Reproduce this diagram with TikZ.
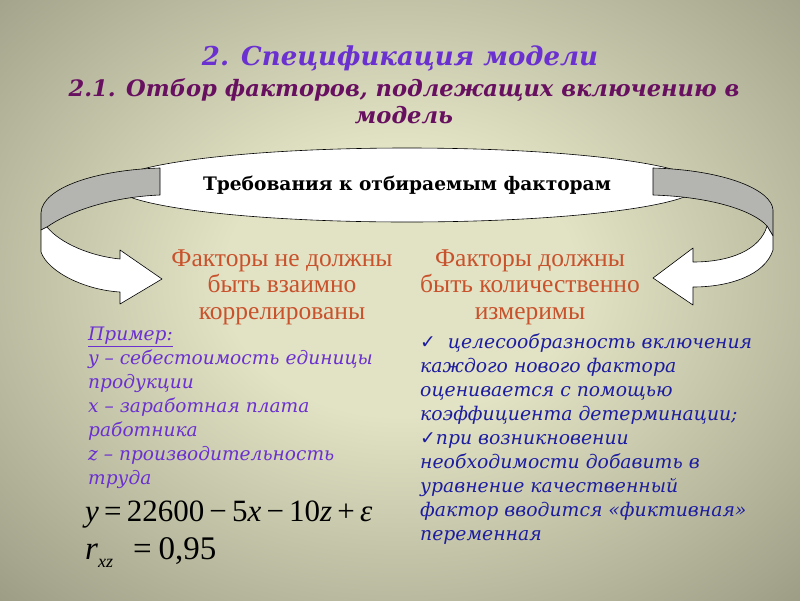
\documentclass[tikz,border=0pt]{standalone}
\usepackage{fontspec}
\setmainfont{Liberation Serif}
\newfontfamily\SpecHeadFont{DejaVu Serif}
\newfontfamily\SpecSymFont{DejaVu Sans}
\usepackage{tikz}
\usetikzlibrary{shapes.geometric}
\definecolor{SpecBgLight}{HTML}{E2E2C4}
\definecolor{SpecBgMid}{HTML}{A6A68E}
\definecolor{SpecBgDark}{HTML}{6E6E5E}
\definecolor{SpecViolet}{HTML}{6A30D0}
\definecolor{SpecPlum}{HTML}{681060}
\definecolor{SpecRust}{HTML}{C8522C}
\definecolor{SpecInk}{HTML}{1C1CA0}
\definecolor{SpecBand}{HTML}{B4B4B0}
\pgfdeclareradialshading{SpecBg}{\pgfpoint{0bp}{0bp}}{%
  color(0bp)=(SpecBgLight); color(10bp)=(SpecBgLight);
  color(30bp)=(SpecBgMid); color(47bp)=(SpecBgDark); color(80bp)=(SpecBgDark)}
\newcommand{\SpecTick}{{\SpecSymFont\char"2713}}
\newcommand{\SpecSize}[2]{\fontsize{#1}{#2}\selectfont}

\begin{document}
\begin{tikzpicture}[x=1pt,y=-1pt,
  head/.style={font=\SpecHeadFont\bfseries\itshape\SpecSize{22.6}{27}},
  factor/.style={text=SpecRust,align=center,font=\SpecSize{25.5}{26.5}},
  note/.style={anchor=north west,align=left,inner sep=0pt,font=\SpecHeadFont\itshape\SpecSize{18.8}{23.9}},
  band/.style={draw=black,line width=.6pt,line join=round}]
  \useasboundingbox (0,0) rectangle (800,600);
  \begin{scope}
    \clip (0,0) rectangle (800,600);
    \shade[shading=SpecBg] (-40,-60) rectangle (840,620);
  \end{scope}
  % heading
  \node[head,text=SpecViolet,font=\SpecHeadFont\bfseries\itshape\SpecSize{26}{30}] (title) at (400,58) {2. Спецификация модели};
  \node[head,text=SpecPlum,align=center] (subtitle) at (404,101) {2.1. Отбор факторов, подлежащих включению в\\модель};
  % ring with two arrows
  \node[ellipse,draw,fill=white,line width=.6pt,minimum width=526,minimum height=74,
    font=\SpecHeadFont\bfseries\SpecSize{18.6}{20}] (req) at (407,185) {Требования к отбираемым факторам};
  \fill[SpecBand,band] (160,168) .. controls (95,170) and (42,188) .. (41,213) -- (41,230) -- (47,227)
    .. controls (68,212) and (110,197) .. (160,195) -- cycle;
  \fill[white,band] (41,230) -- (41,252) .. controls (48,272) and (85,290) .. (120,292) -- (120,304)
    -- (162,279) -- (120,250) -- (120,259) .. controls (90,256) and (60,243) .. (47,227) -- cycle;
  \fill[SpecBand,band] (653,168) .. controls (725,170) and (772,190) .. (773,210) -- (773,236) -- (767,226)
    .. controls (755,212) and (715,197) .. (653,195) -- cycle;
  \fill[white,band] (773,236) -- (773,250) .. controls (765,275) and (730,287) .. (693,287) -- (693,305)
    -- (653,278) -- (693,248) -- (693,262) .. controls (730,262) and (760,250) .. (767,226) -- cycle;
  % two requirements
  \node[factor] (nocorr) at (282,287) {Факторы не должны\\быть взаимно\\коррелированы};
  \node[factor] (measur) at (530,287) {Факторы должны\\быть количественно\\измеримы};
  % example
  \node[note,text=SpecViolet,font=\SpecHeadFont\itshape\SpecSize{18.6}{23.9}] (example) at (88,327) {\underline{Пример:}\\
    y – себестоимость единицы\\продукции\\x – заработная плата\\работника\\z – производительность\\труда};
  \node[anchor=west,inner sep=0pt,font=\SpecSize{31}{34}] (model) at (85,515)
    {\textit{y}\,=\,22600\,−\,5\textit{x}\,−\,10\textit{z}\,+\,\textit{ε}};
  \node[anchor=west,inner sep=0pt,font=\SpecSize{33}{36}] (corr) at (85,553)
    {\textit{r}\raisebox{-8pt}{\SpecSize{18}{18}\textit{xz}}\hspace{20pt}=\hspace{7pt}0,95};
  % dummy variable note
  \node[note,text=SpecInk] (dummy) at (420,334) {\SpecTick\ \ целесообразность включения\\
    каждого нового фактора\\оценивается с помощью\\коэффициента детерминации;\\
    \SpecTick при возникновении\\необходимости добавить в\\уравнение качественный\\
    фактор вводится «фиктивная»\\переменная};
\end{tikzpicture}
\end{document}
